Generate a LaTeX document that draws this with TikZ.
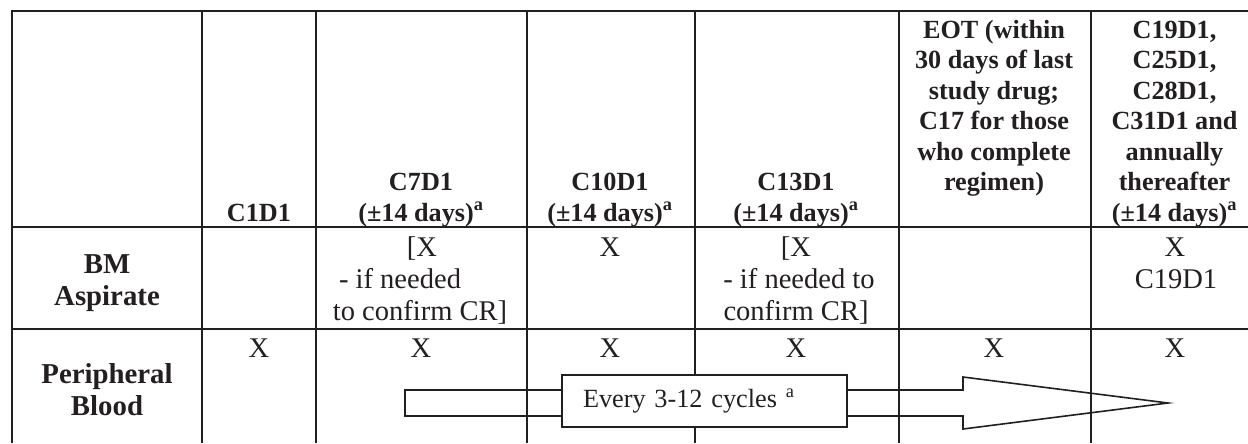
\documentclass[tikz,border=0pt]{standalone}
\usepackage{fontspec}
\setmainfont{Liberation Serif}
\definecolor{ink}{RGB}{35,31,32}
\tikzset{
  gridline/.style={draw=ink, line width=1.9pt},
  heavyline/.style={draw=ink, line width=2.2pt},
  hdr/.style={anchor=base, inner sep=0pt, text=ink, font=\fontsize{19.65}{22.9}\selectfont\bfseries},
  body/.style={anchor=base, inner sep=0pt, text=ink, font=\fontsize{21.4}{23.8}\selectfont},
  rowlbl/.style={anchor=base, inner sep=0pt, text=ink, font=\fontsize{21.6}{24}\selectfont\bfseries},
  arrowline/.style={draw=ink, line width=1.2pt, line join=miter},
  notebox/.style={draw=ink, line width=1.2pt, fill=white, text=ink,
    minimum width=213.75pt, minimum height=39pt, text width=182.25pt,
    align=left, inner xsep=15.75pt, inner ysep=0pt,
    font=\fontsize{19.7}{23}\selectfont}
}
\begin{document}
\begin{tikzpicture}[x=0.75pt,y=-0.75pt]
\useasboundingbox (0,0) rectangle (1248,443);
% grid
\foreach \x in {12,202,316,527,695,899,1091}
  \draw[gridline] (\x,11) -- (\x,443);
\draw[heavyline] (11,11) -- (1248,11);
\draw[heavyline] (11,227) -- (1248,227);
\draw[gridline] (11,329) -- (1248,329);
% header
\node[hdr] (h1) at (259,221) {C1D1};
\node[hdr] (h2a) at (421,190.5) {C7D1};
\node[hdr] (h2b) at (421,221) {(±14 days)\textsuperscript{a}};
\node[hdr] (h3a) at (610,190.5) {C10D1};
\node[hdr] (h3b) at (610,221) {(±14 days)\textsuperscript{a}};
\node[hdr] (h4a) at (796,190.5) {C13D1};
\node[hdr] (h4b) at (796,221) {(±14 days)\textsuperscript{a}};
\foreach \t [count=\i] in {EOT (within, 30 days of last, {study drug;}, C17 for those, who complete, regimen)}
  \node[hdr] (h5-\i) at (994,{38+30.5*(\i-1)}) {\t};
\foreach \t [count=\i] in {{C19D1,}, {C25D1,}, {C28D1,}, C31D1 and, annually, thereafter, (±14 days)\textsuperscript{a}}
  \node[hdr] (h6-\i) at (1174.5,{38+30.5*(\i-1)}) {\t};
% row labels
\node[rowlbl] (bm1) at (107,273) {BM};
\node[rowlbl] (bm2) at (107,305) {Aspirate};
\node[rowlbl] (pb1) at (107,383) {Peripheral};
\node[rowlbl] (pb2) at (107,415) {Blood};
% BM aspirate row
\node[body] (b2a) at (422,256) {[X};
\node[body] (b2b) at (400,288) {- if needed};
\node[body] (b2c) at (420,320) {to confirm CR]};
\node[body] (b3) at (610,256) {X};
\node[body] (b4a) at (796,256) {[X};
\node[body] (b4b) at (799,288) {- if needed to};
\node[body] (b4c) at (796,320) {confirm CR]};
\node[body] (b6a) at (1175,256) {X};
\node[body] (b6b) at (1176,288) {C19D1};
% peripheral blood row
\foreach \x [count=\i] in {259,421,610,796,994,1175}
  \node[body] (p\i) at (\x,357.5) {X};
% arrow
\draw[arrowline] (405,390) -- (963,390) -- (963,377) -- (1168,403) -- (963,429) -- (963,416) -- (405,416) -- cycle;
\node[notebox] (note) at (704.5,401) {Every 3-12 cycles \textsuperscript{a}};
\end{tikzpicture}
\end{document}
